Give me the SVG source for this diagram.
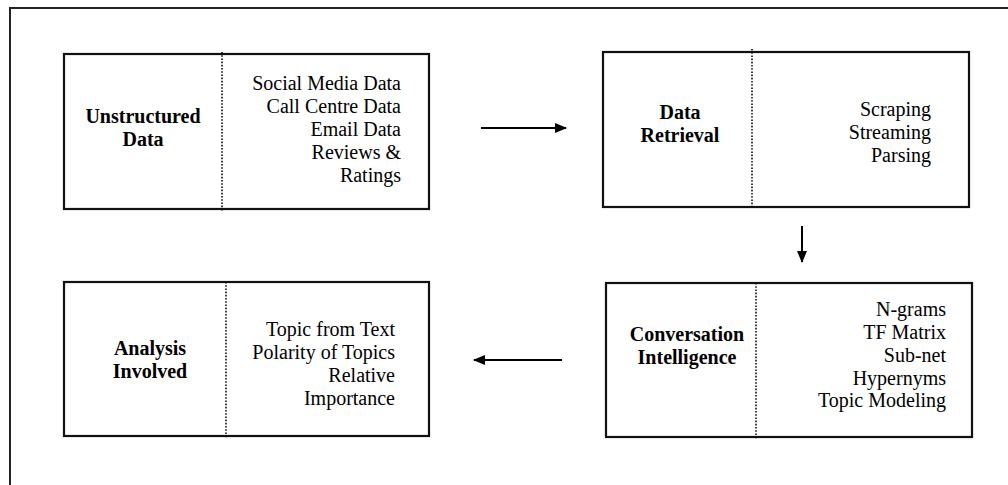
<svg xmlns="http://www.w3.org/2000/svg" width="1008" height="485" viewBox="0 0 1008 485">
  <style>
    .frame { fill: none; stroke: #222; stroke-width: 2; }
    .box { fill: #fff; stroke: #111; stroke-width: 2.2; }
    .divider { stroke: #111; stroke-width: 1.6; stroke-dasharray: 1.6 1.6; fill: none; }
    .title { font-family: "Liberation Serif", "Times New Roman", serif; font-size: 20px; font-weight: bold; fill: #000; text-anchor: middle; }
    .item { font-family: "Liberation Serif", "Times New Roman", serif; font-size: 20px; fill: #000; text-anchor: end; }
    .conn { stroke: #000; stroke-width: 2; fill: none; }
  </style>
  <defs>
    <marker id="head" viewBox="0 0 12 10" refX="11" refY="5" markerWidth="12" markerHeight="10" markerUnits="userSpaceOnUse" orient="auto">
      <path d="M0,0 L12,5 L0,10 Z" fill="#000"/>
    </marker>
  </defs>

  <rect width="1008" height="485" fill="#fff"/>
  <!-- outer frame: only top and left edges fall inside the page -->
  <polyline class="frame" points="10,485 10,8 1008,8"/>

  <g id="unstructured-data">
    <rect class="box" x="64" y="54" width="365" height="155"/>
    <line class="divider" x1="222" y1="52" x2="222" y2="211"/>
    <text class="title" x="143" y="123">Unstructured</text>
    <text class="title" x="143" y="146">Data</text>
    <text class="item" x="401" y="90">Social Media Data</text>
    <text class="item" x="401" y="113">Call Centre Data</text>
    <text class="item" x="401" y="136">Email Data</text>
    <text class="item" x="401" y="159">Reviews &amp;</text>
    <text class="item" x="401" y="182">Ratings</text>
  </g>

  <g id="data-retrieval">
    <rect class="box" x="603" y="52" width="366" height="155"/>
    <line class="divider" x1="752" y1="49" x2="752" y2="207"/>
    <text class="title" x="680" y="119">Data</text>
    <text class="title" x="680" y="142">Retrieval</text>
    <text class="item" x="931" y="116">Scraping</text>
    <text class="item" x="931" y="139">Streaming</text>
    <text class="item" x="931" y="162">Parsing</text>
  </g>

  <g id="conversation-intelligence">
    <rect class="box" x="606" y="283" width="366" height="154"/>
    <line class="divider" x1="756" y1="283" x2="756" y2="439"/>
    <text class="title" x="687" y="341">Conversation</text>
    <text class="title" x="687" y="364">Intelligence</text>
    <text class="item" x="946" y="316">N-grams</text>
    <text class="item" x="946" y="339">TF Matrix</text>
    <text class="item" x="946" y="362">Sub-net</text>
    <text class="item" x="946" y="385">Hypernyms</text>
    <text class="item" x="946" y="407">Topic Modeling</text>
  </g>

  <g id="analysis-involved">
    <rect class="box" x="64" y="282" width="365" height="154"/>
    <line class="divider" x1="226" y1="282" x2="226" y2="438"/>
    <text class="title" x="150" y="355">Analysis</text>
    <text class="title" x="150" y="378">Involved</text>
    <text class="item" x="395" y="336">Topic from Text</text>
    <text class="item" x="395" y="359">Polarity of Topics</text>
    <text class="item" x="395" y="382">Relative</text>
    <text class="item" x="395" y="405">Importance</text>
  </g>

  <g id="connectors">
    <line class="conn" x1="481" y1="128" x2="566" y2="128" marker-end="url(#head)"/>
    <line class="conn" x1="802" y1="226" x2="802" y2="262" marker-end="url(#head)"/>
    <line class="conn" x1="562" y1="360" x2="474" y2="360" marker-end="url(#head)"/>
  </g>
</svg>
